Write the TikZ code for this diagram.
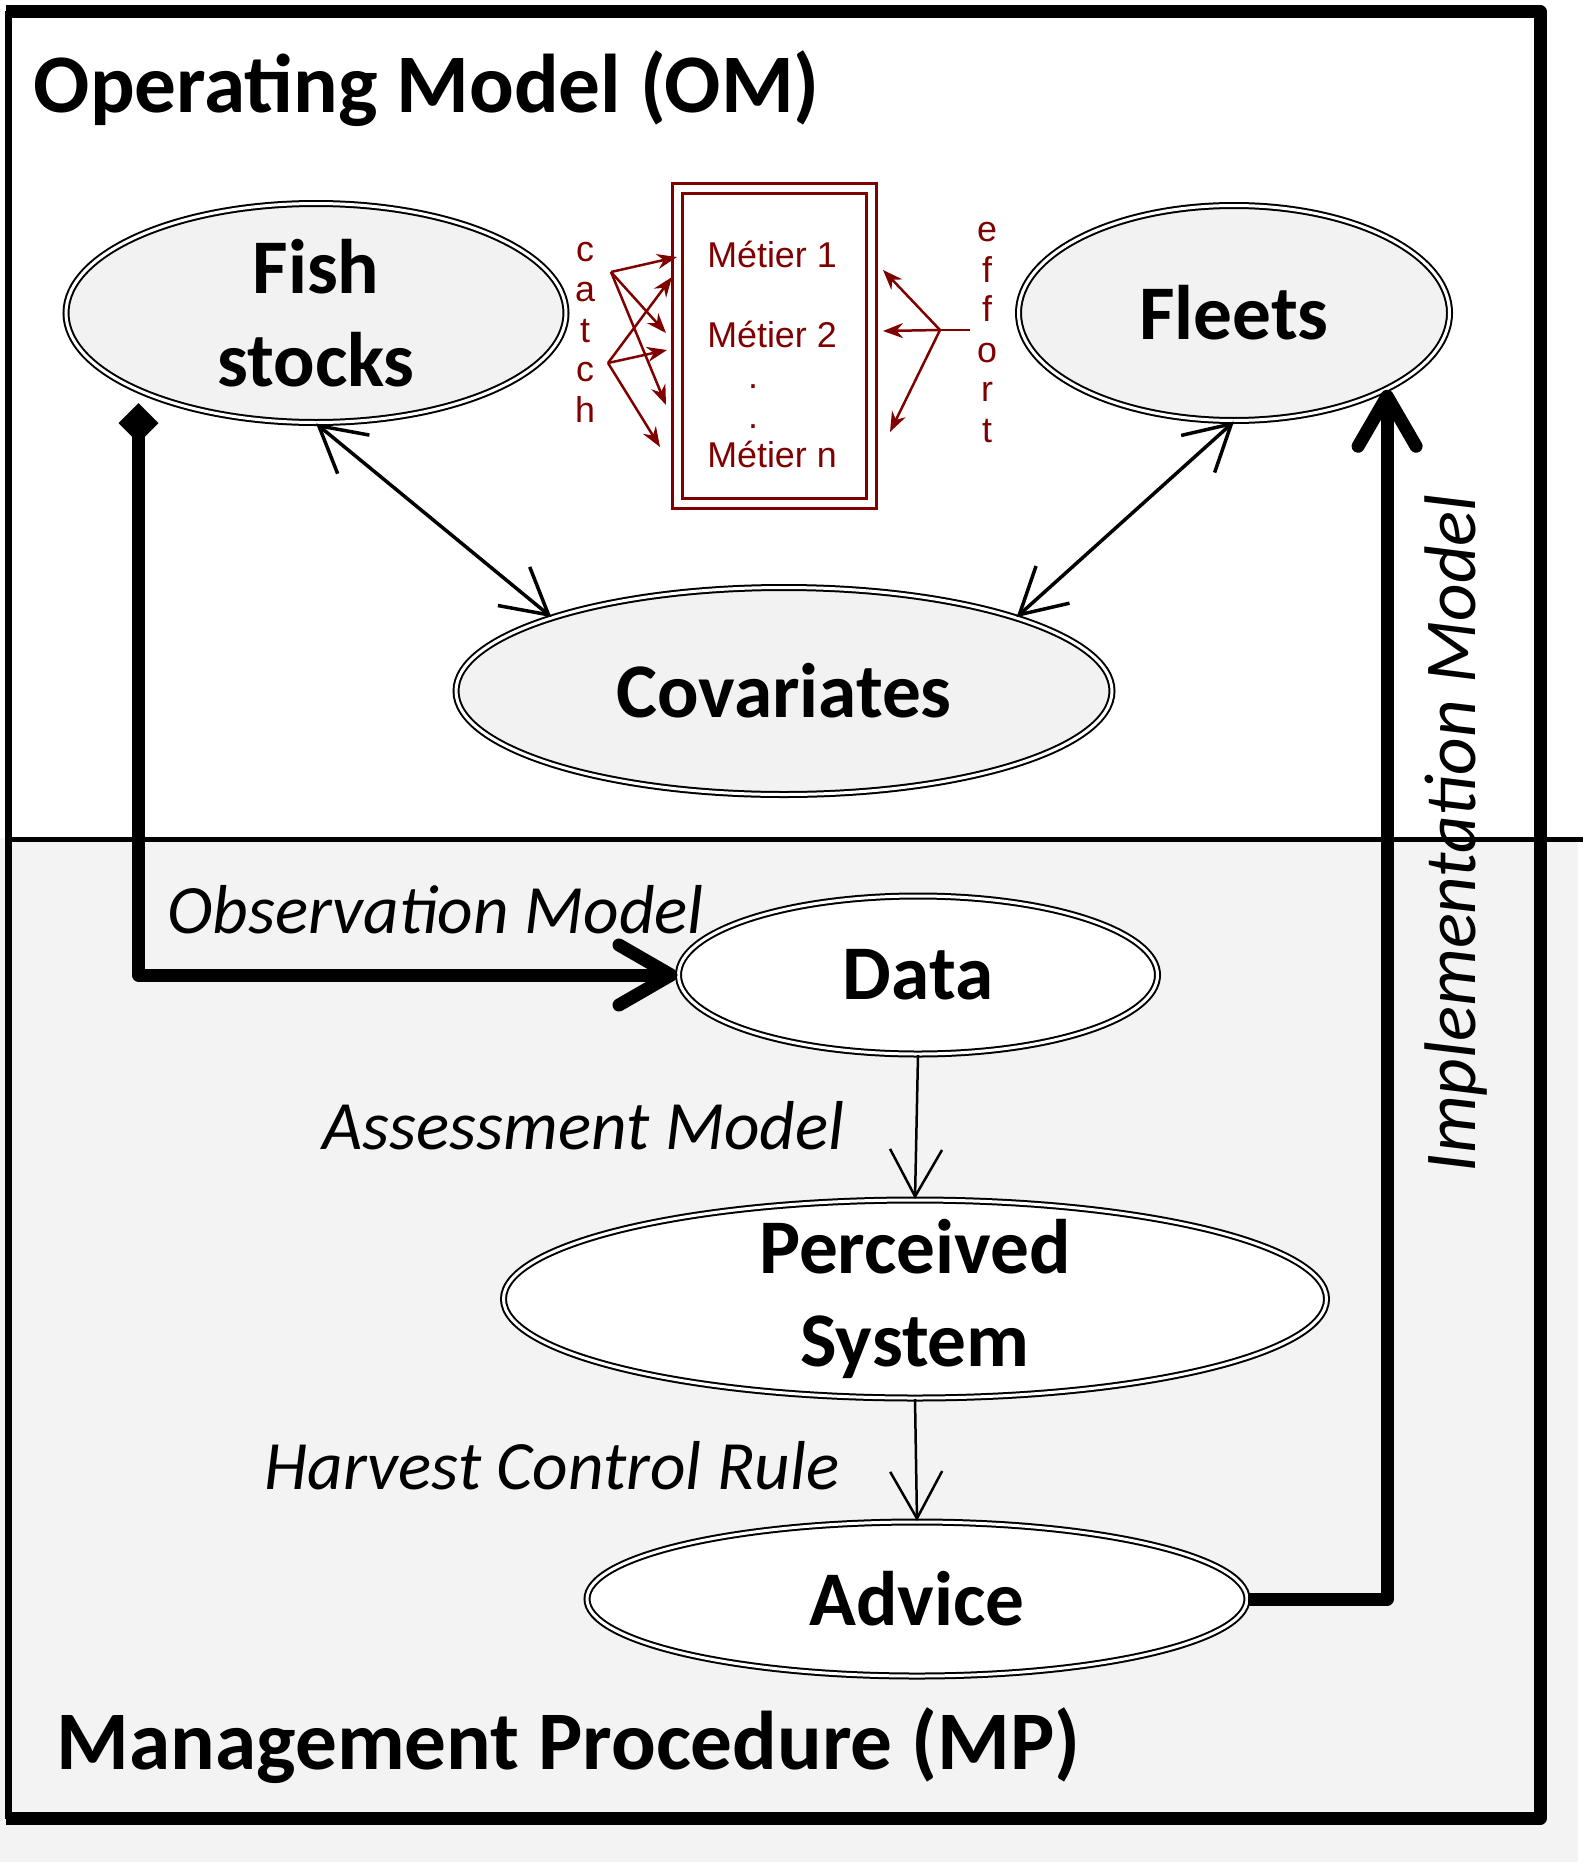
\documentclass[tikz,border=0pt]{standalone}
\usepackage{fontspec}
\setmainfont{Carlito}
\newfontfamily\arialfont{Liberation Sans}
\usetikzlibrary{arrows.meta,shapes.geometric}
\definecolor{metier}{HTML}{800000}
\definecolor{paleg}{HTML}{F2F2F2}
\definecolor{mpbg}{HTML}{F3F3F3}
\tikzset{blob/.style={ellipse,draw,double,double distance=0.03cm,line width=0.02cm,inner sep=0pt,inner ysep=-8pt,
    align=center,font=\fontsize{22}{26.5}\selectfont\bfseries},
  omblob/.style={blob,fill=paleg}, mpblob/.style={blob,fill=white},
  link/.style={line width=0.035cm,{Straight Barb[length=0.45cm,width=0.5cm]}-{Straight Barb[length=0.45cm,width=0.5cm]}},
  flowarr/.style={line width=0.025cm,-{Straight Barb[length=0.47cm,width=0.52cm]}},
  bigarr/.style={line width=0.13cm,line join=round},
  redarr/.style={metier,line width=0.025cm,-{Stealth[length=0.2cm,width=0.15cm]}},
  lab/.style={inner sep=0pt,anchor=base west,font=\fontsize{19.7}{24}\selectfont\itshape},
  headline/.style={inner sep=0pt,anchor=base west,font=\fontsize{23.7}{28}\selectfont\bfseries},
  metxt/.style={metier,inner sep=0pt,anchor=base,font=\arialfont\fontsize{10.2}{12}\selectfont}}

\begin{document}
\begin{tikzpicture}
\useasboundingbox (0,0) rectangle (15.83,-18.68);
\fill[white] (0,0) rectangle (15.83,-18.68);
\fill[mpbg] (0,-8.38) rectangle (15.78,-18.62);
\draw[line width=0.13cm,line join=round] (0.06,-0.115) -- (15.40,-0.115) -- (15.40,-18.185) -- (0.06,-18.185);
\draw[line width=0.07cm] (0.085,-0.115) -- (0.085,-18.185);
\draw[line width=0.05cm] (0.06,-8.39) -- (15.83,-8.39);

\node[headline] (omtitle) at (0.33,-1.13) {Operating Model (OM)};
\node[headline] (mptitle) at (0.56,-17.69) {Management Procedure (MP)};

\node[omblob,minimum width=5cm,minimum height=2.19cm] (fish) at (3.16,-3.13) {Fish\\stocks};
\node[omblob,minimum width=4.31cm,minimum height=2.15cm] (fleets) at (12.34,-3.13) {Fleets};
\node[omblob,minimum width=6.56cm,minimum height=2.07cm] (cov) at (7.84,-6.91) {Covariates};
\node[mpblob,minimum width=4.79cm,minimum height=1.58cm] (data) at (9.18,-9.75) {Data};
\node[mpblob,minimum width=8.23cm,minimum height=1.98cm] (perc) at (9.15,-12.99) {Perceived\\System};
\node[mpblob,minimum width=6.6cm,minimum height=1.54cm] (advice) at (9.17,-15.99) {Advice};

\node[draw=metier,double,double distance=0.07cm,line width=0.03cm,minimum width=1.94cm,minimum height=3.145cm] (metiers) at (7.745,-3.46) {};
\node[metxt] (m1) at (7.72,-2.68) {Métier 1};
\node[metxt] (m2) at (7.72,-3.47) {Métier 2};
\node[metxt] (d1) at (7.53,-3.88) {.};
\node[metxt] (d2) at (7.53,-4.28) {.};
\node[metxt] (mn) at (7.72,-4.67) {Métier n};
\foreach \ch [count=\i] in {c,a,t,c,h} \node[metxt] (catch\i) at (5.85,-2.22-0.4*\i) {\ch};
\foreach \ch [count=\i] in {e,f,f,o,r,t} \node[metxt] (effort\i) at (9.87,-2.02-0.4*\i) {\ch};

\coordinate (ca) at (6.11,-2.72); \coordinate (cb) at (6.08,-3.63);
\foreach \n/\x/\y in {a1/6.77/-2.57,a2/6.66/-3.33,a3/6.66/-4.05,b1/6.72/-2.77,b2/6.67/-3.50,b3/6.60/-4.47}
  \coordinate (\n) at (\x,\y);
\foreach \n in {1,2,3} {\draw[redarr] (ca) -- (a\n); \draw[redarr] (cb) -- (b\n);}
\coordinate (ef) at (9.70,-3.30); \coordinate (ej) at (9.40,-3.30);
\foreach \n/\x/\y in {e1/8.83/-2.70,e2/8.83/-3.31,e3/8.90/-4.32} \coordinate (\n) at (\x,\y);
\draw[metier,line width=0.025cm] (ef) -- (ej);
\foreach \n in {1,2,3} \draw[redarr] (ej) -- (e\n);

\draw[link] (fish.south) -- (cov.north west);
\draw[link] (fleets.south) -- (cov.north east);
\draw[flowarr] (data.south) -- (perc.north);
\draw[flowarr] (perc.south) -- (advice.north);
\draw[bigarr,{Diamond[length=0.4cm,width=0.4cm]}-{Straight Barb[length=0.52cm,width=0.6cm,round]},shorten <=0.12cm] (fish.south west) |- (data.west);
\draw[bigarr,-{Straight Barb[length=0.5cm,width=0.58cm,round]}] (advice.east) -| (fleets.south east);

\node[lab] (obs) at (1.67,-9.33) {Observation Model};
\node[lab] (assess) at (3.22,-11.49) {Assessment Model};
\node[lab] (hcr) at (2.64,-14.89) {Harvest Control Rule};
\node[lab,rotate=90,font=\fontsize{20.8}{24}\selectfont\itshape] (impl) at (14.75,-11.73) {Implementation Model};
\end{tikzpicture}
\end{document}
